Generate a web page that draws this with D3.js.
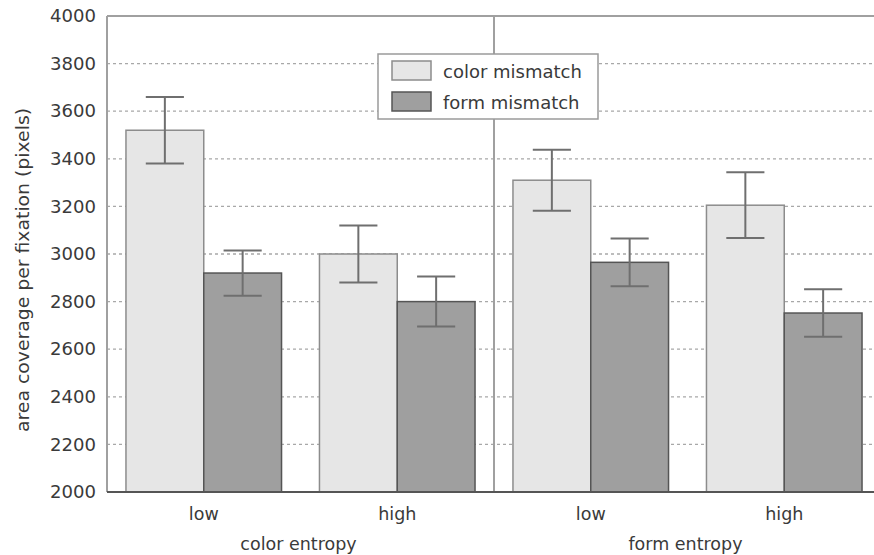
<!DOCTYPE html>
<html>
<head>
<meta charset="utf-8">
<script src="https://cdn.jsdelivr.net/npm/d3@7"></script>
<style>
  html, body { margin: 0; padding: 0; background: #fff; }
  svg { display: block; }
  text { font-family: "DejaVu Sans", sans-serif; fill: #3a3a3a; }
</style>
</head>
<body>
<svg id="chart" width="874" height="555"></svg>
<script>
// Conditions: entropy level within each entropy factor
const levels = ["low", "high", "low", "high"];
const factors = ["color entropy", "form entropy"];
const seriesNames = ["color mismatch", "form mismatch"];

// Mean area coverage per fixation (pixels) and error half-widths
const colorMismatch = [3520, 3000, 3310, 3205];
const formMismatch = [2920, 2800, 2965, 2752];
const colorMismatchErr = [140, 120, 128, 138];
const formMismatchErr = [95, 105, 100, 100];

const yTicks = [2000, 2200, 2400, 2600, 2800, 3000, 3200, 3400, 3600, 3800, 4000];

const svg = d3.select("#chart");
const plotLeft = 107, plotRight = 881, plotTop = 16, plotBottom = 492;
const fontSize = 17.5;

const groupIds = levels.map((d, i) => i);
const x = d3.scaleBand().domain(groupIds).range([plotLeft, plotRight])
  .paddingInner(0.196).paddingOuter(0.098);
const xs = d3.scaleBand().domain(seriesNames).range([0, x.bandwidth()]);
const y = d3.scaleLinear().domain([2000, 4000]).range([plotBottom, plotTop]);

const fills = { "color mismatch": "#e6e6e6", "form mismatch": "#9f9f9f" };
const strokes = { "color mismatch": "#8c8c8c", "form mismatch": "#555" };

// dotted horizontal grid
svg.append("g").selectAll("line")
  .data(yTicks.filter(t => t > 2000 && t < 4000))
  .join("line")
  .attr("x1", plotLeft).attr("x2", plotRight)
  .attr("y1", d => y(d)).attr("y2", d => y(d))
  .attr("stroke", "#a8a8a8").attr("stroke-width", 1.3)
  .attr("stroke-dasharray", "3,3");

// frame and divider between the two entropy factors
const frame = svg.append("g").attr("stroke", "#a0a0a0").attr("stroke-width", 2).attr("fill", "none");
frame.append("line").attr("x1", plotLeft).attr("x2", plotRight).attr("y1", plotTop).attr("y2", plotTop);
frame.append("line").attr("x1", plotLeft).attr("x2", plotLeft).attr("y1", plotTop).attr("y2", plotBottom);
frame.append("line").attr("x1", plotRight).attr("x2", plotRight).attr("y1", plotTop).attr("y2", plotBottom);
const midX = (x(1) + x.bandwidth() + x(2)) / 2;
frame.append("line").attr("x1", midX).attr("x2", midX).attr("y1", plotTop).attr("y2", plotBottom);

// bars
const rows = [];
groupIds.forEach(i => {
  rows.push({ g: i, s: "color mismatch", v: colorMismatch[i], e: colorMismatchErr[i] });
  rows.push({ g: i, s: "form mismatch", v: formMismatch[i], e: formMismatchErr[i] });
});

svg.append("g").selectAll("rect").data(rows).join("rect")
  .attr("x", d => x(d.g) + xs(d.s))
  .attr("y", d => y(d.v))
  .attr("width", xs.bandwidth())
  .attr("height", d => y(2000) - y(d.v))
  .attr("fill", d => fills[d.s])
  .attr("stroke", d => strokes[d.s])
  .attr("stroke-width", 1.5);

// error bars
const capW = xs.bandwidth() * 0.49;
const eb = svg.append("g").attr("stroke", "#6f6f6f").attr("stroke-width", 2);
rows.forEach(d => {
  const cx = x(d.g) + xs(d.s) + xs.bandwidth() / 2;
  eb.append("line").attr("x1", cx).attr("x2", cx).attr("y1", y(d.v + d.e)).attr("y2", y(d.v - d.e));
  eb.append("line").attr("x1", cx - capW / 2).attr("x2", cx + capW / 2).attr("y1", y(d.v + d.e)).attr("y2", y(d.v + d.e));
  eb.append("line").attr("x1", cx - capW / 2).attr("x2", cx + capW / 2).attr("y1", y(d.v - d.e)).attr("y2", y(d.v - d.e));
});

// bottom axis line
svg.append("line").attr("x1", plotLeft).attr("x2", plotRight).attr("y1", plotBottom).attr("y2", plotBottom)
  .attr("stroke", "#555").attr("stroke-width", 2);

// y axis labels
const yAxis = d3.axisLeft(y).tickValues(yTicks).tickSize(0).tickPadding(11).tickFormat(d3.format("d"));
const ya = svg.append("g").attr("transform", `translate(${plotLeft},0)`).call(yAxis);
ya.select(".domain").remove();
ya.selectAll("text").style("font-family", '"DejaVu Sans", sans-serif')
  .attr("font-size", fontSize).attr("fill", "#3a3a3a")
  .attr("textLength", 46).attr("lengthAdjust", "spacingAndGlyphs");

// x axis level labels
const xAxis = d3.axisBottom(x).tickSize(0).tickPadding(16).tickFormat(i => levels[i]);
const xa = svg.append("g").attr("transform", `translate(0,${plotBottom})`).call(xAxis);
xa.select(".domain").remove();
xa.selectAll("text").style("font-family", '"DejaVu Sans", sans-serif')
  .attr("font-size", fontSize).attr("fill", "#3a3a3a");

// factor titles
factors.forEach((f, k) => {
  const cx = (x(2 * k) + x(2 * k + 1) + x.bandwidth()) / 2;
  svg.append("text").attr("x", cx - 2).attr("y", 550)
    .attr("text-anchor", "middle").attr("font-size", fontSize).text(f);
});

// y title
svg.append("text")
  .attr("transform", "translate(29,270) rotate(-90)")
  .attr("text-anchor", "middle").attr("font-size", fontSize)
  .attr("textLength", 324).attr("lengthAdjust", "spacingAndGlyphs")
  .text("area coverage per fixation (pixels)");

// legend
const lg = svg.append("g");
lg.append("rect").attr("x", 378).attr("y", 54).attr("width", 220).attr("height", 65)
  .attr("fill", "#fff").attr("stroke", "#9a9a9a").attr("stroke-width", 1.5);
seriesNames.forEach((s, i) => {
  lg.append("rect").attr("x", 392).attr("y", 61 + i * 31).attr("width", 39).attr("height", 19)
    .attr("fill", fills[s]).attr("stroke", strokes[s]).attr("stroke-width", 1.5);
  lg.append("text").attr("x", 443).attr("y", 78 + i * 31).attr("font-size", 18).text(s);
});
</script>
</body>
</html>
